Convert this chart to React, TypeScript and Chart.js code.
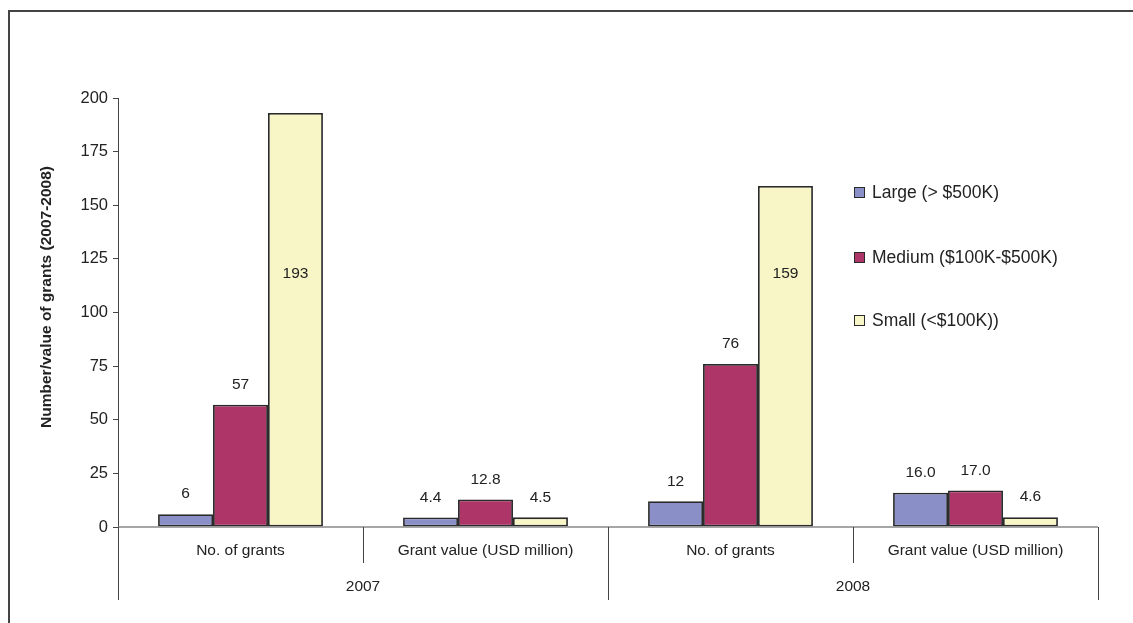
import React, { useEffect, useRef } from 'react';
import { Chart, registerables } from 'chart.js';

Chart.register(...registerables);

const categories = ['No. of grants', 'Grant value (USD million)', 'No. of grants', 'Grant value (USD million)'];
const years = ['2007', '2008'];
const largeValues = [6, 4.4, 12, 16.0];
const mediumValues = [57, 12.8, 76, 17.0];
const smallValues = [193, 4.5, 159, 4.6];
const seriesNames = ['Large (> $500K)', 'Medium ($100K-$500K)', 'Small (<$100K))'];
const seriesColors = ['#8A8FC7', '#AD3568', '#F8F6C6'];
const yTicks = { min: 0, max: 200, step: 25 };
const yTitle = 'Number/value of grants (2007-2008)';

const FONT = '"Liberation Sans", Arial, Helvetica, sans-serif';

export default function App() {
  const ref = useRef<HTMLCanvasElement>(null);

  useEffect(() => {
    document.body.style.margin = '0';
    document.body.style.overflow = 'hidden';
    const canvas = ref.current!;
    const ctx = canvas.getContext('2d')!;

    const decor = {
      id: 'decor',
      afterDatasetsDraw(chart: any) {
        const c = chart.ctx;
        const yScale = chart.scales.y;
        c.save();
        c.font = `15.5px ${FONT}`;
        c.fillStyle = '#222';
        c.textAlign = 'center';
        c.textBaseline = 'middle';
        chart.data.datasets.forEach((ds: any, di: number) => {
          const meta = chart.getDatasetMeta(di);
          meta.data.forEach((bar: any, i: number) => {
            const v = ds.data[i];
            const txt = i % 2 === 1 ? v.toFixed(1) : String(v);
            const y = v > 150 ? yScale.getPixelForValue(118) : bar.y - 20;
            c.fillText(txt, bar.x, y);
          });
        });
        c.restore();
      },
      afterDraw(chart: any) {
        const c = chart.ctx;
        const area = chart.chartArea;
        const xs = chart.scales.x;
        const step = xs.getPixelForValue(1) - xs.getPixelForValue(0);
        const bottom = area.bottom;
        c.save();
        c.strokeStyle = '#888';
        c.lineWidth = 1.5;
        c.beginPath();
        c.moveTo(area.left, bottom);
        c.lineTo(area.right, bottom);
        c.stroke();
        c.strokeStyle = '#444';
        c.lineWidth = 1;
        for (let i = 0; i <= categories.length; i++) {
          const x = Math.round(xs.getPixelForValue(0) - step / 2 + i * step) + 0.5;
          c.beginPath();
          c.moveTo(x, bottom);
          c.lineTo(x, bottom + (i % 2 === 0 ? 73 : 36));
          c.stroke();
        }
        c.fillStyle = '#222';
        c.textAlign = 'center';
        c.textBaseline = 'middle';
        c.font = `15.5px ${FONT}`;
        categories.forEach((lab, i) => {
          c.fillText(lab, xs.getPixelForValue(i), bottom + 24);
        });
        years.forEach((yr, i) => {
          const x = (xs.getPixelForValue(i * 2) + xs.getPixelForValue(i * 2 + 1)) / 2;
          c.fillText(yr, x, bottom + 60);
        });
        c.font = `bold 15.5px ${FONT}`;
        c.translate(47, 297);
        c.rotate(-Math.PI / 2);
        c.fillText(yTitle, 0, 0);
        c.restore();
      },
    };

    const chart = new Chart(ctx, {
      type: 'bar',
      data: {
        labels: categories,
        datasets: [largeValues, mediumValues, smallValues].map((d, i) => ({
          label: seriesNames[i],
          data: d,
          backgroundColor: seriesColors[i],
          borderColor: '#2a2a2a',
          borderWidth: 1.8,
          borderSkipped: false,
          categoryPercentage: 0.673,
          barPercentage: 1,
        })),
      },
      options: {
        responsive: false,
        animation: false,
        layout: { padding: { left: 0, right: 35, top: 98, bottom: 0 } },
        plugins: { legend: { display: false }, tooltip: { enabled: false } },
        scales: {
          x: {
            ticks: { display: false },
            grid: { display: false },
            border: { display: false },
            afterFit: (s: any) => { s.height = 96; },
          },
          y: {
            min: yTicks.min,
            max: yTicks.max,
            ticks: { stepSize: yTicks.step, color: '#222', font: { family: FONT, size: 16.5 }, padding: 5 },
            grid: { drawOnChartArea: false, tickLength: 5, color: '#444' },
            border: { color: '#444', width: 1 },
            afterFit: (s: any) => { s.width = 118; },
          },
        },
      },
      plugins: [decor],
    });
    return () => chart.destroy();
  }, []);

  const legendTops = [182, 247, 310];

  return (
    <div style={{ position: 'fixed', left: 0, top: 0, width: 1133, height: 623, overflow: 'hidden', background: '#fff' }}>
      <div style={{ position: 'absolute', left: 8, top: 10, width: 2000, height: 2000, borderLeft: '2px solid #444', borderTop: '2px solid #444' }} />
      <canvas ref={ref} width={1133} height={623} style={{ position: 'absolute', left: 0, top: 0, display: 'block' }} />
      {seriesNames.map((n, i) => (
        <div key={n} style={{ position: 'absolute', left: 854, top: legendTops[i], height: 20, display: 'flex', alignItems: 'center', fontFamily: FONT, fontSize: 17.5, color: '#222', whiteSpace: 'nowrap' }}>
          <span style={{ display: 'inline-block', width: 9, height: 9, border: '1.5px solid #2a2a2a', background: seriesColors[i], marginRight: 7 }} />
          <span>{n}</span>
        </div>
      ))}
    </div>
  );
}
